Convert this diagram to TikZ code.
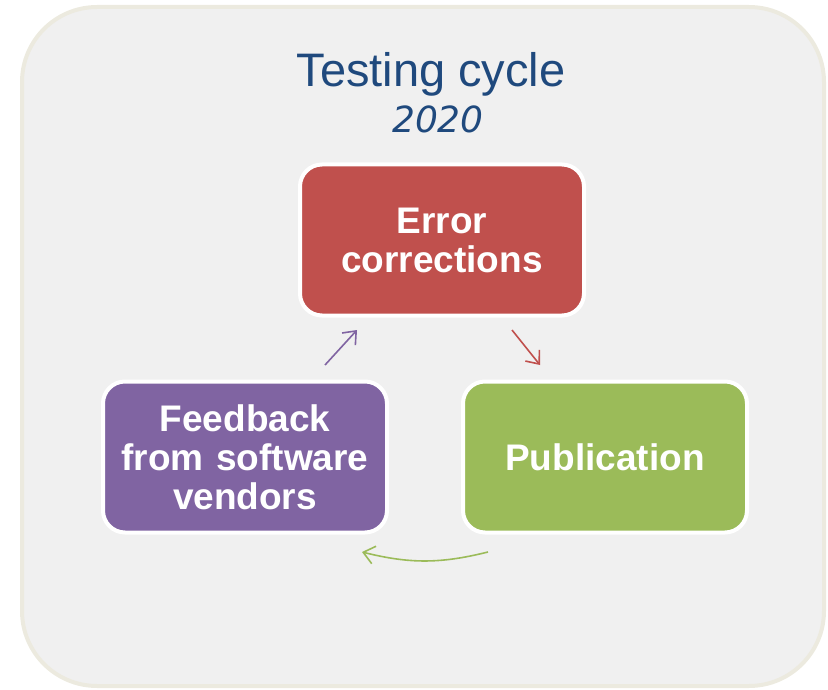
\documentclass[tikz,border=0pt]{standalone}
\usepackage{fontspec}
\setmainfont{Liberation Sans}
\newfontfamily\yearfont{DejaVu Sans}
\usetikzlibrary{arrows.meta}
\usetikzlibrary{positioning}
\definecolor{titleblue}{HTML}{1F497D}
\definecolor{stagered}{HTML}{C0504D}
\definecolor{stagegreen}{HTML}{9BBB59}
\definecolor{stagepurple}{HTML}{8064A2}
\definecolor{panelfill}{HTML}{F0F0F0}
\definecolor{panelline}{HTML}{ECEADF}
\tikzstyle{stage} = [rectangle, rounded corners=22pt, minimum width=284pt, minimum height=151pt, text centered, text width=276pt, draw=white, line width=4pt, text=white, font=\fontsize{37}{39}\selectfont\bfseries]
\tikzstyle{flow} = [line width=1.6pt, -{Straight Barb[length=11pt,width=18pt,line width=1.6pt]}]

\begin{document}
\begin{tikzpicture}[x=1pt, y=-1pt]
 \useasboundingbox (0,0) rectangle (828,690);
 \draw[panelline, fill=panelfill, line width=4pt, rounded corners=75pt] (22,7) rectangle (824,686);

 \node (title) [anchor=base] at (431,87) {\fontsize{47}{50}\selectfont\color{titleblue}Testing cycle};
 \node (year) [anchor=base] at (438,133) {\fontsize{36}{40}\selectfont\color{titleblue}\yearfont\itshape 2020};

 \node (err) [stage, fill=stagered] at (442,240) {Error\\corrections};
 \node (pub) [stage, fill=stagegreen] at (605,457) {Publication};
 \node (feed) [stage, fill=stagepurple] at (245,457) {Feedback\\from software\\vendors};

 % arrow ends between the stages
 \coordinate (errout) at (512,330);
 \coordinate (pubin) at (540,365);
 \coordinate (pubout) at (488,552);
 \coordinate (feedin) at (362,552);
 \coordinate (feedout) at (325,365);
 \coordinate (errin) at (357,330);

 \draw[flow, stagered] (errout) -- (pubin);
 \draw[flow, stagegreen] (pubout) to[bend left=14] (feedin);
 \draw[flow, stagepurple] (feedout) -- (errin);
\end{tikzpicture}
\end{document}
